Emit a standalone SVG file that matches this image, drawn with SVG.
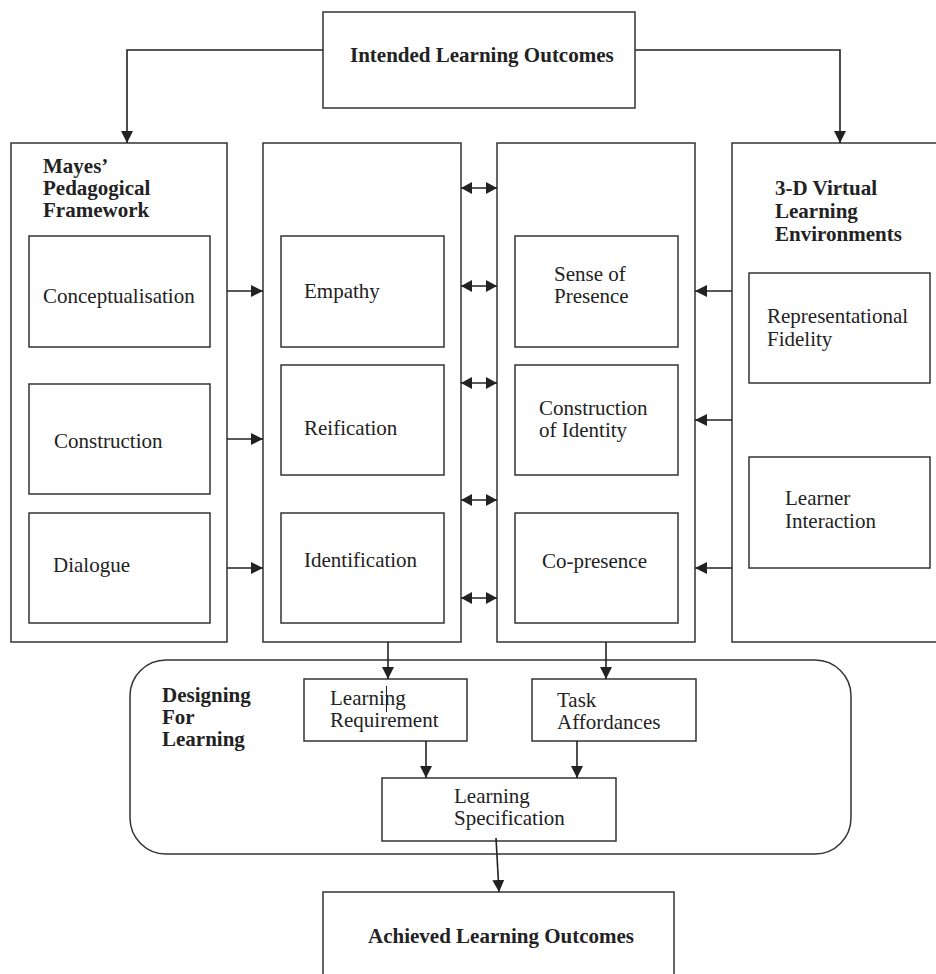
<svg xmlns="http://www.w3.org/2000/svg" width="936" height="974" viewBox="0 0 936 974">
<style>
  .box{fill:#fff;stroke:#333;stroke-width:1.5}
  .t{font-family:"Liberation Serif","Times New Roman",serif;font-size:21px;fill:#222}
  .b{font-weight:bold}
  .c{fill:none;stroke:#222;stroke-width:1.6}
</style>
<defs>
  <marker id="ah" viewBox="0 0 12 12" refX="12" refY="6" markerWidth="12" markerHeight="12" markerUnits="userSpaceOnUse" orient="auto-start-reverse">
    <path d="M0,0 L12,6 L0,12 z" fill="#222"/>
  </marker>
  <marker id="ah2" viewBox="0 0 11 12" refX="11" refY="6" markerWidth="11" markerHeight="12" markerUnits="userSpaceOnUse" orient="auto-start-reverse">
    <path d="M0,0 L11,6 L0,12 z" fill="#222"/>
  </marker>
</defs>
<rect width="936" height="974" fill="#fff"/>

<g id="intended">
  <rect class="box" x="323" y="12" width="312" height="96"/>
  <text class="t b" x="350" y="62">Intended Learning Outcomes</text>
</g>

<g id="mayes">
  <rect class="box" x="11" y="143" width="216" height="499"/>
  <text class="t b" x="43" y="173">Mayes’</text>
  <text class="t b" x="43" y="195">Pedagogical</text>
  <text class="t b" x="43" y="217">Framework</text>
</g>
<g id="conceptualisation">
  <rect class="box" x="29" y="236" width="181" height="111"/>
  <text class="t" x="43" y="303">Conceptualisation</text>
</g>
<g id="construction">
  <rect class="box" x="29" y="384" width="181" height="110"/>
  <text class="t" x="54" y="448">Construction</text>
</g>
<g id="dialogue">
  <rect class="box" x="29" y="513" width="181" height="110"/>
  <text class="t" x="53" y="572">Dialogue</text>
</g>

<g id="column2">
  <rect class="box" x="263" y="143" width="198" height="499"/>
</g>
<g id="empathy">
  <rect class="box" x="281" y="236" width="163" height="111"/>
  <text class="t" x="304" y="298">Empathy</text>
</g>
<g id="reification">
  <rect class="box" x="281" y="365" width="163" height="110"/>
  <text class="t" x="304" y="435">Reification</text>
</g>
<g id="identification">
  <rect class="box" x="281" y="513" width="163" height="110"/>
  <text class="t" x="304" y="567">Identification</text>
</g>

<g id="column3">
  <rect class="box" x="497" y="143" width="198" height="499"/>
</g>
<g id="sense-of-presence">
  <rect class="box" x="515" y="236" width="163" height="111"/>
  <text class="t" x="554" y="281">Sense of</text>
  <text class="t" x="554" y="303">Presence</text>
</g>
<g id="construction-of-identity">
  <rect class="box" x="515" y="365" width="163" height="110"/>
  <text class="t" x="539" y="415">Construction</text>
  <text class="t" x="539" y="437">of Identity</text>
</g>
<g id="co-presence">
  <rect class="box" x="515" y="513" width="163" height="110"/>
  <text class="t" x="542" y="568">Co-presence</text>
</g>

<g id="vle">
  <rect class="box" x="732" y="143" width="214" height="499"/>
  <text class="t b" x="775" y="195">3-D Virtual</text>
  <text class="t b" x="775" y="218">Learning</text>
  <text class="t b" x="775" y="241">Environments</text>
</g>
<g id="representational-fidelity">
  <rect class="box" x="749" y="273" width="181" height="110"/>
  <text class="t" x="767" y="323">Representational</text>
  <text class="t" x="767" y="346">Fidelity</text>
</g>
<g id="learner-interaction">
  <rect class="box" x="749" y="457" width="181" height="111"/>
  <text class="t" x="785" y="505">Learner</text>
  <text class="t" x="785" y="528">Interaction</text>
</g>

<g id="designing">
  <rect class="box" x="130" y="660" width="721" height="194" rx="36" ry="36"/>
  <text class="t b" x="162" y="702">Designing</text>
  <text class="t b" x="162" y="724">For</text>
  <text class="t b" x="162" y="746">Learning</text>
</g>
<g id="learning-requirement">
  <rect class="box" x="304" y="679" width="163" height="62"/>
  <text class="t" x="330" y="705">Learning</text>
  <text class="t" x="330" y="727">Requirement</text>
  <line x1="386.5" y1="686" x2="386.5" y2="712" stroke="#222" stroke-width="1"/>
</g>
<g id="task-affordances">
  <rect class="box" x="532" y="679" width="164" height="62"/>
  <text class="t" x="557" y="707">Task</text>
  <text class="t" x="557" y="729">Affordances</text>
</g>
<g id="learning-specification">
  <rect class="box" x="382" y="778" width="234" height="63"/>
  <text class="t" x="454" y="803">Learning</text>
  <text class="t" x="454" y="825">Specification</text>
</g>
<g id="achieved">
  <rect class="box" x="323" y="892" width="351" height="100"/>
  <text class="t b" x="368" y="943">Achieved Learning Outcomes</text>
</g>

<g id="connectors">
  <path class="c" d="M323,50 H127 V143" marker-end="url(#ah)"/>
  <path class="c" d="M635,50 H840 V143" marker-end="url(#ah)"/>
  <line class="c" x1="227" y1="291" x2="263" y2="291" marker-end="url(#ah)"/>
  <line class="c" x1="227" y1="439" x2="263" y2="439" marker-end="url(#ah)"/>
  <line class="c" x1="227" y1="568" x2="263" y2="568" marker-end="url(#ah)"/>
  <line class="c" x1="461" y1="188" x2="497" y2="188" marker-start="url(#ah2)" marker-end="url(#ah2)"/>
  <line class="c" x1="461" y1="286" x2="497" y2="286" marker-start="url(#ah2)" marker-end="url(#ah2)"/>
  <line class="c" x1="461" y1="383" x2="497" y2="383" marker-start="url(#ah2)" marker-end="url(#ah2)"/>
  <line class="c" x1="461" y1="500" x2="497" y2="500" marker-start="url(#ah2)" marker-end="url(#ah2)"/>
  <line class="c" x1="461" y1="598" x2="497" y2="598" marker-start="url(#ah2)" marker-end="url(#ah2)"/>
  <line class="c" x1="732" y1="291" x2="695" y2="291" marker-end="url(#ah)"/>
  <line class="c" x1="732" y1="420" x2="695" y2="420" marker-end="url(#ah)"/>
  <line class="c" x1="732" y1="568" x2="695" y2="568" marker-end="url(#ah)"/>
  <line class="c" x1="388" y1="642" x2="388" y2="679" marker-end="url(#ah)"/>
  <line class="c" x1="606" y1="642" x2="606" y2="679" marker-end="url(#ah)"/>
  <line class="c" x1="426" y1="741" x2="426" y2="778" marker-end="url(#ah)"/>
  <line class="c" x1="577" y1="741" x2="577" y2="778" marker-end="url(#ah)"/>
  <line class="c" x1="496" y1="838" x2="499" y2="892" marker-end="url(#ah)"/>
</g>
</svg>
